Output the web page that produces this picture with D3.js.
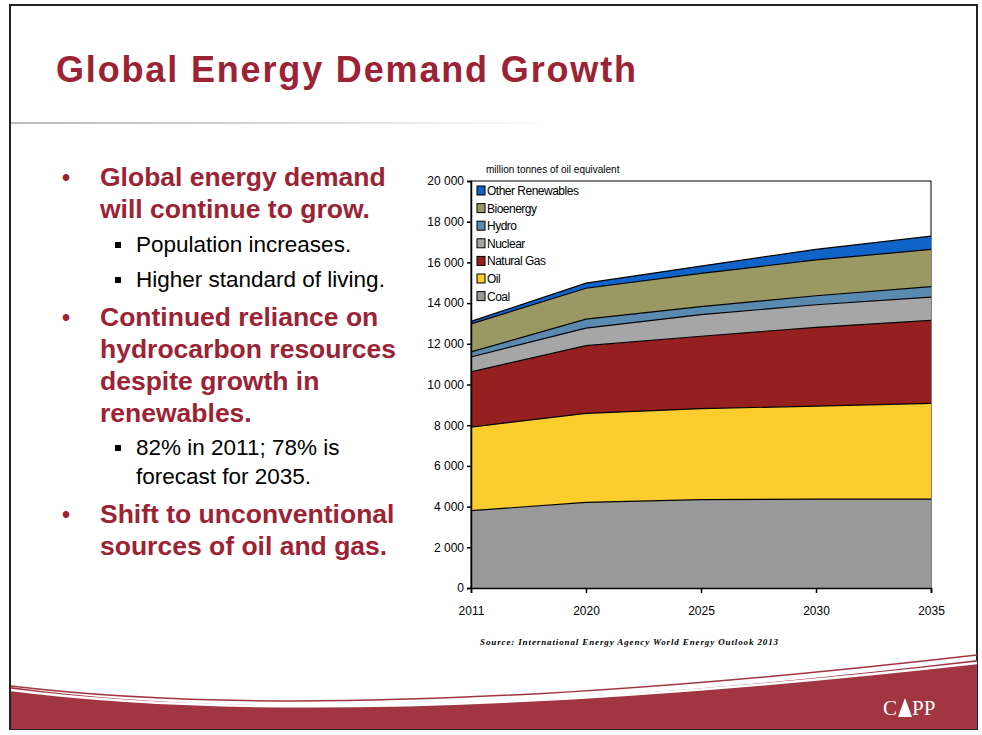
<!DOCTYPE html>
<html><head><meta charset="utf-8">
<script src="https://cdn.jsdelivr.net/npm/d3@7"></script>
<style>body{margin:0;background:#fff}svg{display:block}</style>
</head><body><svg id="c" width="982" height="735"></svg>
<script>
const years = [2011, 2020, 2025, 2030, 2035];
const tickLabels = ["2011", "2020", "2025", "2030", "2035"];
const coal = [3800, 4210, 4340, 4370, 4370];
const oil = [4110, 4370, 4470, 4570, 4700];
const naturalGas = [2710, 3330, 3560, 3870, 4080];
const nuclear = [730, 860, 1060, 1110, 1140];
const hydro = [250, 440, 400, 440, 520];
const bioenergy = [1380, 1520, 1630, 1760, 1830];
const otherRenewables = [120, 250, 360, 520, 650];
const seriesNames = ["Coal", "Oil", "Natural Gas", "Nuclear", "Hydro", "Bioenergy", "Other Renewables"];
const seriesColors = ["#999999", "#fbcd2f", "#96201f", "#a6a6a6", "#5b8ab1", "#9a9964", "#0f63c9"];
const yTicks = [0, 2000, 4000, 6000, 8000, 10000, 12000, 14000, 16000, 18000, 20000];

const svg = d3.select("#c");
const red = "#9b2335";
svg.append("rect").attr("x",10).attr("y",5).attr("width",967).attr("height",724).attr("fill","#fff").attr("stroke","#222").attr("stroke-width",2);
svg.append("text").attr("x",56).attr("y",82).attr("fill",red).attr("font-family","Liberation Sans, Arial").attr("font-weight","bold").attr("font-size",36).attr("textLength",580).text("Global Energy Demand Growth");
const g0 = svg.append("defs").append("linearGradient").attr("id","hl");
g0.append("stop").attr("offset","0").attr("stop-color","#bbb");
g0.append("stop").attr("offset","0.6").attr("stop-color","#ddd");
g0.append("stop").attr("offset","1").attr("stop-color","#fff");
svg.append("rect").attr("x",11).attr("y",122).attr("width",540).attr("height",2).attr("fill","url(#hl)");

const F = "Liberation Sans, Arial";
function big(lines,y){ svg.append("text").attr("x",62).attr("y",y).attr("fill",red).attr("font-family",F).attr("font-size",23).attr("font-weight","bold").text("•");
  lines.forEach((l,i)=>svg.append("text").attr("x",100).attr("y",y+i*32).attr("fill",red).attr("font-family",F).attr("font-size",26.5).attr("font-weight","bold").text(l)); }
function small(lines,y){ svg.append("rect").attr("x",115).attr("y",y-10).attr("width",6).attr("height",6).attr("fill","#000");
  lines.forEach((l,i)=>svg.append("text").attr("x",136).attr("y",y+i*29).attr("fill","#000").attr("font-family",F).attr("font-size",22.5).text(l)); }
big(["Global energy demand","will continue to grow."],186);
small(["Population increases."],252);
small(["Higher standard of living."],287);
big(["Continued reliance on","hydrocarbon resources","despite growth in","renewables."],326);
small(["82% in 2011; 78% is","forecast for 2035."],455);
big(["Shift to unconventional","sources of oil and gas."],523);

const x = d3.scalePoint().domain(years).range([471,931]);
const y = d3.scaleLinear().domain([0,20000]).range([588,181]);
const data = years.map((yr,i)=>({year:yr,Coal:coal[i],Oil:oil[i],"Natural Gas":naturalGas[i],Nuclear:nuclear[i],Hydro:hydro[i],Bioenergy:bioenergy[i],"Other Renewables":otherRenewables[i]}));
const stack = d3.stack().keys(seriesNames)(data);
const area = d3.area().x(d=>x(d.data.year)).y0(d=>y(d[0])).y1(d=>y(d[1]));
const line = d3.line().x(d=>x(d.data.year)).y(d=>y(d[1]));
svg.append("rect").attr("x",471).attr("y",181).attr("width",460).attr("height",407).attr("fill","#fff").attr("stroke","#000").attr("stroke-width",1);
svg.selectAll(".a").data(stack).enter().append("path").attr("d",area).attr("fill",(d,i)=>seriesColors[i]);
svg.selectAll(".l").data(stack).enter().append("path").attr("d",line).attr("fill","none").attr("stroke","#000").attr("stroke-width",1.2);
const NF = "Liberation Sans Narrow, Arial Narrow, sans-serif";
const ya = svg.append("g").attr("transform","translate(471,0)").call(d3.axisLeft(y).tickValues(yTicks).tickSize(4).tickFormat(d=>d3.format(",")(d).replace(","," ")));
const xa = svg.append("g").attr("transform","translate(0,588)").call(d3.axisBottom(x).tickSize(5).tickFormat((d,i)=>tickLabels[i]));
[ya,xa].forEach(a=>{a.selectAll("text").attr("font-family",NF).attr("font-size",12).attr("fill","#000");a.selectAll("path,line").attr("stroke","#000").attr("stroke-width",1.5);});
xa.selectAll("text").attr("dy","1.6em");
svg.append("text").attr("x",486).attr("y",173).attr("font-family",NF).attr("font-size",10).text("million tonnes of oil equivalent");
const leg = seriesNames.slice().reverse();
const legC = seriesColors.slice().reverse();
leg.forEach((n,i)=>{const ly=186+i*17.6;
  svg.append("rect").attr("x",477).attr("y",ly).attr("width",8).attr("height",9).attr("fill",legC[i]).attr("stroke","#000");
  svg.append("text").attr("x",487).attr("y",ly+9).attr("font-family",NF).attr("font-size",12).attr("letter-spacing","-0.5").text(n);});
svg.append("text").attr("x",480).attr("y",645).attr("font-family","Liberation Serif, serif").attr("font-style","italic").attr("font-weight","bold").attr("font-size",9).attr("textLength",298).text("Source: International Energy Agency World Energy Outlook 2013");

svg.append("path").attr("d","M11,687 Q350,735 977,660 L977,729 L11,729 Z").attr("fill","#a13541");
svg.append("path").attr("d","M11,686 Q350,727 977,655").attr("fill","none").attr("stroke","#a13541").attr("stroke-width",1.5);
svg.append("path").attr("d","M11,690 Q350,733 977,663").attr("fill","none").attr("stroke","#fff").attr("stroke-width",2.5);
svg.append("text").attr("x",883).attr("y",715).attr("fill","#fff").attr("font-family","Liberation Serif, serif").attr("font-size",21).text("C");
svg.append("text").attr("x",912).attr("y",715).attr("fill","#fff").attr("font-family","Liberation Serif, serif").attr("font-size",21).text("PP");
svg.append("path").attr("d","M898,717 L905,698 L912,717 Z").attr("fill","#fff");
</script></body></html>
